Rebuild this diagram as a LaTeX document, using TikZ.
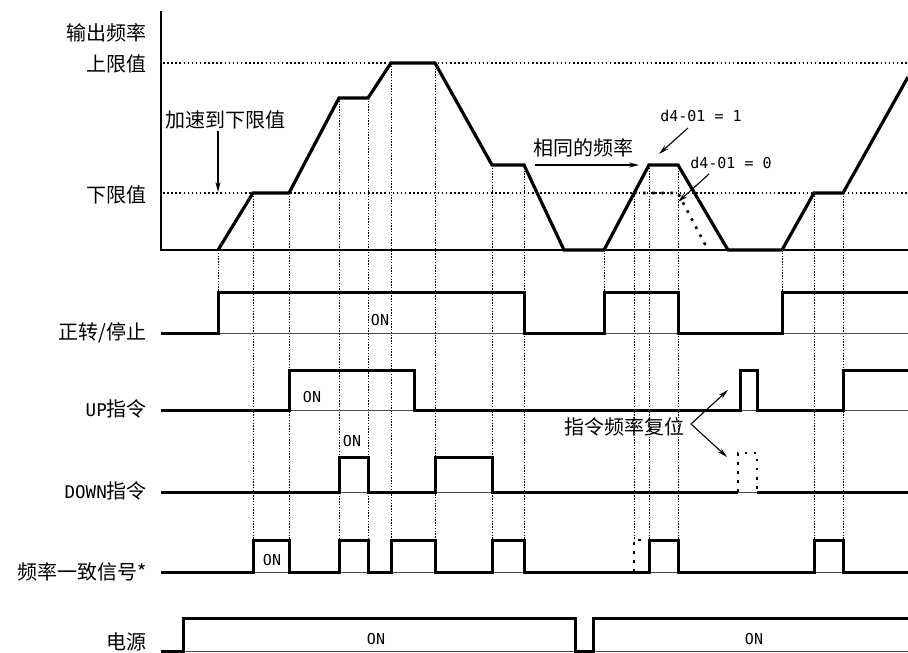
\documentclass[tikz,border=0pt]{standalone}
\usepackage{fontspec}
\setmainfont{Noto Sans CJK SC}
\newfontfamily\mono{DejaVu Sans Mono}
\usetikzlibrary{arrows.meta}
\begin{document}
\begin{tikzpicture}[x=1pt,y=-1pt,
  lab/.style={font=\fontsize{20}{24}\selectfont, inner sep=0pt, anchor=east},
  note/.style={font=\fontsize{20}{24}\selectfont, inner sep=0pt},
  ontext/.style={font=\mono\fontsize{15}{18}\selectfont, inner sep=0pt},
  sig/.style={line width=3pt, line join=miter, line cap=butt},
  base/.style={line width=1pt, black!70},
  guide/.style={line width=0.8pt, dash pattern=on 1.4pt off 1.4pt},
  refl/.style={line width=1.4pt, dash pattern=on 1.5pt off 2.6pt},
  bigdot/.style={line width=2.6pt, dash pattern=on 2.6pt off 6.5pt},
  arr/.style={line width=1.1pt, -{Stealth[length=10pt,width=5pt]}},
]
\useasboundingbox (0,0) rectangle (908,653);
\fill[white] (0,0) rectangle (908,653);
\clip (0,0) rectangle (908,653);

% guide lines
\foreach \x/\ya/\yb in {218/250/292, 253/193/540, 289/193/540, 339/98/540, 368/98/540,
  391/63/540, 435/63/540, 492/165/540, 524/165/540, 604/250/292, 634/193/540,
  649/165/540, 678/165/540, 782/250/292, 814/193/540, 843/193/540}
  \draw[guide] (\x,\ya) -- (\x,\yb);

% limit levels
\draw[refl] (163,63) -- (908,63);
\draw[refl] (163,193) -- (908,193);

% axes
\draw[line width=2.2pt] (161,11) -- (161,250) -- (908,250);

% output frequency
\draw[sig, line width=3.2pt] (218,250) -- (253,193) -- (289,193) -- (339,98) -- (368,98)
  -- (391,63) -- (435,63) -- (492,165) -- (524,165) -- (564,250) -- (604,250)
  -- (649,165) -- (678,165) -- (728,250) -- (782,250) -- (814,193) -- (843,193) -- (908,77);
\draw[bigdot] (634,193) -- (678,193) -- (708,250);

% forward/stop
\draw[base] (161,333) -- (908,333);
\draw[sig] (161,333) -- (218,333) -- (218,292) -- (524,292) -- (524,333) -- (604,333)
  -- (604,292) -- (678,292) -- (678,333) -- (782,333) -- (782,292) -- (908,292);

% UP
\draw[base] (161,410) -- (908,410);
\draw[sig] (161,410) -- (289,410) -- (289,370) -- (414,370) -- (414,410) -- (740,410)
  -- (740,370) -- (757,370) -- (757,410) -- (843,410) -- (843,370) -- (908,370);

% DOWN
\draw[base] (161,492) -- (908,492);
\draw[sig] (161,492) -- (339,492) -- (339,457) -- (368,457) -- (368,492) -- (435,492)
  -- (435,457) -- (492,457) -- (492,492) -- (738,492);
\draw[sig] (757,492) -- (908,492);
\draw[bigdot] (738,492) -- (738,453) -- (757,453) -- (757,492);

% frequency agree
\draw[base] (161,572) -- (908,572);
\draw[sig] (161,572) -- (253,572) -- (253,540) -- (289,540) -- (289,572) -- (339,572)
  -- (339,540) -- (368,540) -- (368,572) -- (391,572) -- (391,540) -- (435,540)
  -- (435,572) -- (492,572) -- (492,540) -- (524,540) -- (524,572) -- (649,572)
  -- (649,540) -- (678,540) -- (678,572) -- (814,572) -- (814,540) -- (843,540)
  -- (843,572) -- (908,572);
\draw[bigdot] (634,572) -- (634,540) -- (649,540);

% power
\draw[base] (161,651) -- (908,651);
\draw[sig] (161,651) -- (183,651) -- (183,618) -- (575,618) -- (575,651) -- (593,651)
  -- (593,618) -- (908,618);

% row labels
\node[lab] (l1) at (147,33) {输出频率};
\node[lab] (l2) at (147,64) {上限值};
\node[lab] (l3) at (147,195) {下限值};
\node[lab] (l4) at (147,333) {正转/停止};
\node[lab] (l5) at (147,409) {{\mono\fontsize{17.5}{20}\selectfont UP}指令};
\node[lab] (l6) at (147,491) {{\mono\fontsize{17.5}{20}\selectfont DOWN}指令};
\node[lab] (l7) at (147,572) {频率一致信号*};
\node[lab] (l8) at (147,642) {电源};

% ON labels
\node[ontext] (on1) at (380,320) {ON};
\node[ontext] (on2) at (312,397) {ON};
\node[ontext] (on3) at (352,441) {ON};
\node[ontext] (on4) at (272,560) {ON};
\node[ontext] (on5) at (376,639) {ON};
\node[ontext] (on6) at (754,639) {ON};

% annotations
\node[note, anchor=west] (acc) at (165,120) {加速到下限值};
\coordinate (accS) at (218,131);
\coordinate (accE) at (218,192);
\draw[arr] (accS) -- (accE);

\node[note] (same) at (583,148) {相同的频率};
\coordinate (sameS) at (535,165);
\coordinate (sameE) at (639,165);
\draw[arr] (sameS) -- (sameE);

\node[ontext] (d1) at (701,116) {d4-01 = 1};
\coordinate (d1S) at (688,128);
\coordinate (d1E) at (659,154);
\draw[arr] (d1S) -- (d1E);

\node[ontext] (d0) at (731,163) {d4-01 = 0};
\coordinate (d0S) at (709,174);
\coordinate (d0E) at (678,202);
\draw[arr] (d0S) -- (d0E);

\node[note, anchor=east] (rst) at (685,427) {指令频率复位};
\coordinate (rstS) at (691,424);
\coordinate (rstU) at (728,390);
\coordinate (rstD) at (727,457);
\draw[arr] (rstS) -- (rstU);
\draw[arr] (rstS) -- (rstD);
\end{tikzpicture}
\end{document}
